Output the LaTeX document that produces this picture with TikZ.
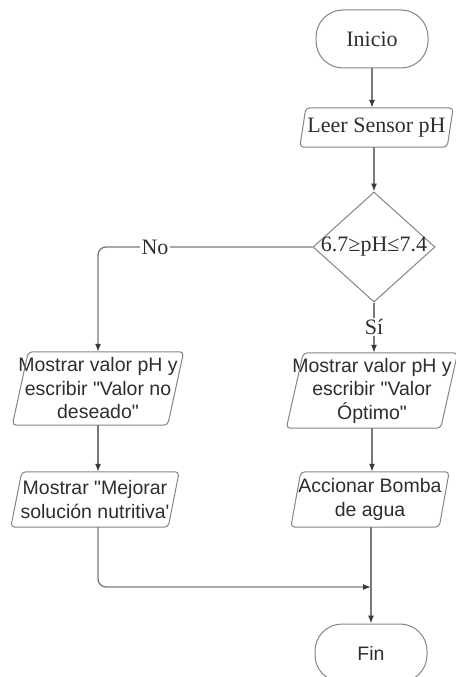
\documentclass[tikz,border=0pt]{standalone}
\usepackage{fontspec}
\setmainfont{Liberation Serif}
\newfontfamily\sansf{Liberation Sans}
\usetikzlibrary{shapes.geometric,arrows.meta}
\definecolor{ln}{HTML}{7A7A7A}
\definecolor{sh}{HTML}{858585}
\definecolor{tip}{HTML}{3A3A3A}
\definecolor{tx}{HTML}{2E2E2E}
\newcommand\paradraw[2]{%
  \draw[shapeline] ([xshift=#2]#1.north west) -- (#1.north east) -- ([xshift=-#2]#1.south east) -- (#1.south west) -- cycle;}
\begin{document}
\begin{tikzpicture}[x=1pt,y=-1pt,
  serif/.style={font=\fontsize{22}{26}\selectfont},
  sans/.style={font=\sansf\fontsize{19.5}{23.5}\selectfont},
  shapeline/.style={draw=sh, line width=1pt, rounded corners=4pt},
  term/.style={draw=sh, line width=1pt, rounded corners=27pt, minimum width=112pt, minimum height=58pt, inner sep=0pt, text=tx},
  io/.style={inner sep=0pt, align=center, text=tx},
  dia/.style={diamond, draw=sh, line width=1pt, minimum width=122pt, minimum height=110pt, inner sep=0pt, text=tx},
  conn/.style={draw=ln, line width=1.3pt, rounded corners=8pt, -{Latex[length=8pt,width=6pt,color=tip]}},
  plain/.style={draw=ln, line width=1.3pt},
  lab/.style={fill=white, inner sep=1.5pt, text=tx, serif}]
\useasboundingbox[fill=white] (0,0) rectangle (455,677);

\node[term, serif] (ini) at (372,39) {Inicio};
\node[io, serif, minimum width=153pt, minimum height=39pt] (leer) at (376.5,127.5) {Leer Sensor pH};
\paradraw{leer}{6pt}
\node[dia, serif] (dec) at (374,247) {\makebox[0pt]{6.7≥pH≤7.4}};
\node[io, sans, minimum width=171pt, minimum height=73pt] (l1) at (98,388.5) {Mostrar valor pH y\\escribir "Valor no\\deseado"};
\paradraw{l1}{16pt}
\node[io, sans, minimum width=171pt, minimum height=75pt] (r1) at (372,390.5) {Mostrar valor pH y\\escribir "Valor\\Óptimo"};
\paradraw{r1}{17pt}
\node[io, sans, minimum width=168pt, minimum height=55pt] (l2) at (95,499.5) {Mostrar "Mejorar\\solución nutritiva'};
\paradraw{l2}{11pt}
\node[io, sans, minimum width=158pt, minimum height=55pt] (r2) at (370,499.5) {Accionar Bomba\\de agua};
\paradraw{r2}{10pt}
\node[term, sans] (fin) at (371,653) {Fin};
\coordinate (merge) at (371,587);

\draw[conn] (ini.south) -- (ini.south |- leer.north);
\draw[conn] (dec.north |- leer.south) -- (dec.north);
\draw[conn] (dec.west) -- (l1.north |- dec.west) -- (l1.north);
\draw[conn] (dec.south) -- (dec.south |- r1.north);
\draw[conn] (l1.south) -- (l1.south |- l2.north);
\draw[conn] (r1.south) -- (r1.south |- r2.north);
\draw[conn] (l1.south |- l2.south) -- (l1.south |- merge) -- (merge);
\draw[conn] (r2.south -| merge) -- (fin.north -| merge);
\node[lab] (no) at (155,247) {No};
\node[lab] (si) at (374,327) {Sí};
\end{tikzpicture}
\end{document}
